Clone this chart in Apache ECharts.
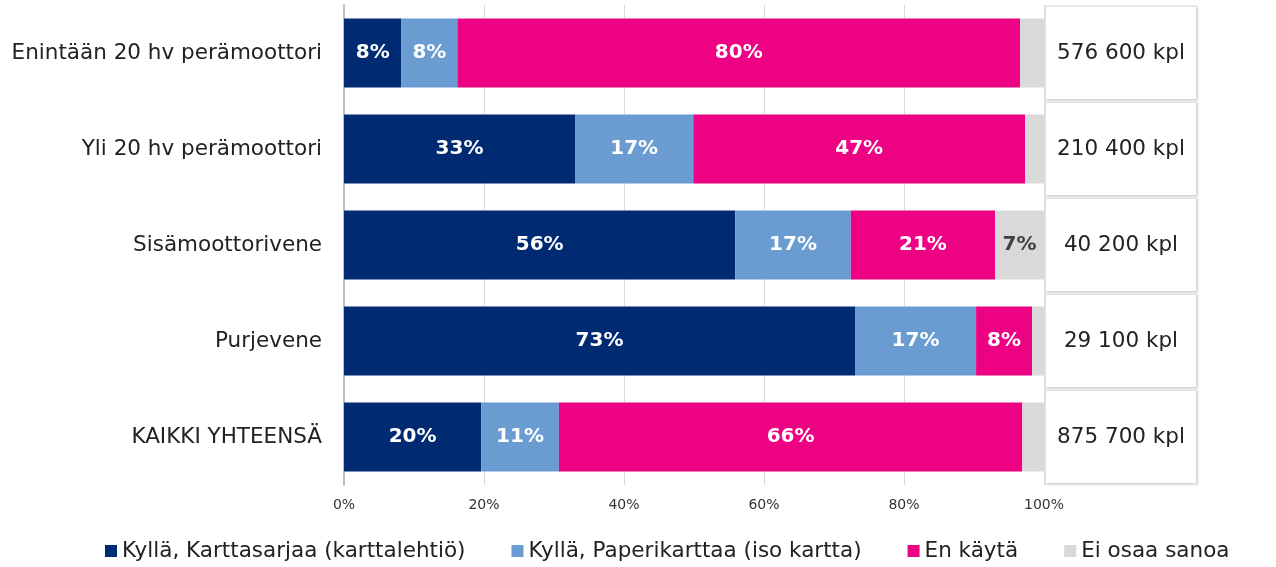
<!DOCTYPE html>
<html>
<head>
    <meta charset="utf-8">
    <script src="https://cdn.jsdelivr.net/npm/echarts@6/dist/echarts.min.js"></script>
    <style>
        html, body { margin: 0; padding: 0; background: #fff; }
    </style>
</head>
<body>
    <div id="main" style="width: 1276px;height:567px;"></div>
    <script type="text/javascript">
        // categories (top to bottom) and totals shown in the right boxes
        var categories = ['Enintään 20 hv perämoottori', 'Yli 20 hv perämoottori', 'Sisämoottorivene', 'Purjevene', 'KAIKKI YHTEENSÄ'];
        var totals = ['576 600 kpl', '210 400 kpl', '40 200 kpl', '29 100 kpl', '875 700 kpl'];

        // shares in percent
        var karttasarjaa = [8.2, 33.0, 55.9, 73.0, 19.6];
        var paperikarttaa = [8.0, 16.9, 16.5, 17.3, 11.1];
        var enKayta = [80.4, 47.4, 20.6, 8.0, 66.2];
        var eiOsaa = [3.4, 2.7, 7.0, 1.7, 3.1];

        var seriesNames = ['Kyllä, Karttasarjaa (karttalehtiö)', 'Kyllä, Paperikarttaa (iso kartta)', 'En käytä', 'Ei osaa sanoa'];
        var seriesData = [karttasarjaa, paperikarttaa, enKayta, eiOsaa];
        var colors = ['#002B73', '#6A9CD2', '#EC0282', '#D9D9D9'];
        var labelColors = ['#fff', '#fff', '#fff', '#404040'];

        var myChart = echarts.init(document.getElementById('main'));
        var font = '"DejaVu Sans", Verdana, sans-serif';

        var series = seriesData.map(function (d, i) {
            return {
                name: seriesNames[i],
                type: 'bar',
                stack: 'total',
                barCategoryGap: '28%',
                itemStyle: { color: colors[i] },
                label: {
                    show: true,
                    position: 'inside',
                    color: labelColors[i],
                    fontFamily: font,
                    fontWeight: 'bold',
                    fontSize: 20,
                    formatter: function (p) {
                        return p.value >= 5 ? Math.round(p.value) + '%' : '';
                    }
                },
                data: d
            };
        });

        var option = {
            animation: false,
            color: colors,
            grid: { left: 344, right: 232, top: 5, bottom: 82 },
            legend: {
                bottom: 0,
                left: 100,
                itemWidth: 12,
                itemHeight: 12,
                itemGap: 46,
                itemTextGap: 5,
                icon: 'rect',
                textStyle: { fontFamily: font, fontSize: 21.5, color: '#222' },
                data: seriesNames
            },
            xAxis: {
                type: 'value',
                min: 0,
                max: 100,
                interval: 20,
                axisLine: { show: false },
                axisTick: { show: false },
                splitLine: { lineStyle: { color: '#d9d9d9', width: 1 } },
                axisLabel: {
                    formatter: '{value}%',
                    fontFamily: font,
                    fontSize: 14,
                    color: '#333',
                    margin: 13
                }
            },
            yAxis: [
                {
                    type: 'category',
                    inverse: true,
                    data: categories,
                    axisLine: { show: true, lineStyle: { color: '#bfbfbf', width: 2 } },
                    axisTick: { show: false },
                    axisLabel: {
                        fontFamily: font,
                        fontSize: 21.5,
                        color: '#222',
                        margin: 22
                    }
                },
                {
                    type: 'category',
                    inverse: true,
                    position: 'right',
                    data: totals,
                    axisLine: { show: false },
                    axisTick: { show: false },
                    axisLabel: {
                        margin: 2,
                        align: 'left',
                        backgroundColor: '#fff',
                        borderColor: '#e2e2e2',
                        borderWidth: 1.5,
                        shadowColor: 'rgba(0,0,0,0.08)',
                        shadowBlur: 2,
                        shadowOffsetX: 1,
                        shadowOffsetY: 1,
                        formatter: function (v) { return '{a|' + v + '}'; },
                        rich: {
                            a: {
                                width: 150,
                                height: 92,
                                lineHeight: 92,
                                align: 'center',
                                fontFamily: font,
                                fontSize: 21.5,
                                color: '#222'
                            }
                        }
                    }
                }
            ],
            series: series
        };
        myChart.setOption(option);
    </script>
</body>
</html>
